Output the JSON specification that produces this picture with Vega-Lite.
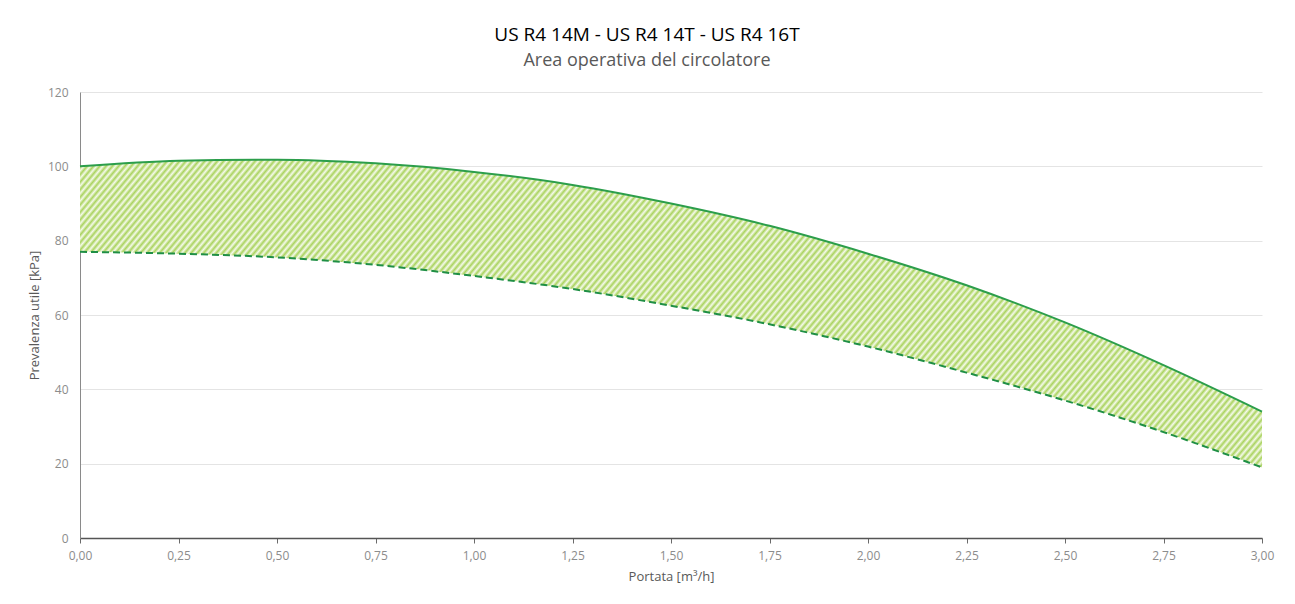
{
  "$schema": "https://vega.github.io/schema/vega-lite/v6.json",
  "width": 1182,
  "height": 446,
  "autosize": {"type": "none"},
  "padding": {"left": 80, "top": 92, "right": 33, "bottom": 66},
  "background": "#ffffff",
  "config": {"view": {"stroke": null}, "font": "Open Sans"},
  "title": {
    "text": "US R4 14M - US R4 14T - US R4 16T",
    "subtitle": "Area operativa del circolatore",
    "anchor": "middle",
    "dx": -24,
    "font": "Open Sans",
    "fontSize": 19,
    "fontWeight": "normal",
    "color": "#000000",
    "subtitleFont": "Open Sans",
    "subtitleFontSize": 18,
    "subtitleColor": "#595959",
    "subtitlePadding": 7,
    "offset": 16
  },
  "data": {
    "values": [
      {"q": 0, "hmax": 100, "hmin": 77},
      {"q": 0.25, "hmax": 101.5, "hmin": 76.5},
      {"q": 0.5, "hmax": 101.8, "hmin": 75.5},
      {"q": 0.75, "hmax": 100.8, "hmin": 73.5},
      {"q": 1.0, "hmax": 98.5, "hmin": 70.5},
      {"q": 1.25, "hmax": 95, "hmin": 67},
      {"q": 1.5, "hmax": 90, "hmin": 62.5},
      {"q": 1.75, "hmax": 84, "hmin": 57.5},
      {"q": 2.0, "hmax": 76.5, "hmin": 51.5},
      {"q": 2.25, "hmax": 68, "hmin": 44.5},
      {"q": 2.5, "hmax": 58, "hmin": 37},
      {"q": 2.75, "hmax": 46.5, "hmin": 28.5},
      {"q": 3.0, "hmax": 34, "hmin": 19}
    ]
  },
  "encoding": {
    "x": {
      "field": "q",
      "type": "quantitative",
      "scale": {"domain": [0, 3], "nice": false},
      "axis": {
        "title": "Portata [m³/h]",
        "values": [0, 0.25, 0.5, 0.75, 1, 1.25, 1.5, 1.75, 2, 2.25, 2.5, 2.75, 3],
        "labelExpr": "replace(format(datum.value, '.2f'), '.', ',')",
        "labelFlush": false,
        "grid": false,
        "ticks": true,
        "tickSize": 5,
        "tickColor": "#6b6b6b",
        "domainColor": "#555555",
        "domainWidth": 1.5,
        "labelPadding": 7,
        "labelFontSize": 12,
        "labelColor": "#8c8c8c",
        "labelFont": "Open Sans",
        "titleFont": "Open Sans",
        "titleFontSize": 13,
        "titleFontWeight": "normal",
        "titleColor": "#595959",
        "titlePadding": 9
      }
    }
  },
  "layer": [
    {
      "mark": {
        "type": "area",
        "interpolate": "monotone",
        "stroke": null,
        "fill": {
          "gradient": "linear",
          "x1": 0, "y1": 0, "x2": 1.27249, "y2": 0.27632,
          "stops": [
{"offset":0.000,"color":"#aad35f"},{"offset":0.002,"color":"#f5faea"},{"offset":0.004,"color":"#aad35f"},{"offset":0.006,"color":"#f5faea"},{"offset":0.008,"color":"#aad35f"},{"offset":0.010,"color":"#f5faea"},{"offset":0.012,"color":"#aad35f"},{"offset":0.014,"color":"#f5faea"},{"offset":0.016,"color":"#aad35f"},{"offset":0.018,"color":"#f5faea"},
{"offset":0.020,"color":"#aad35f"},{"offset":0.022,"color":"#f5faea"},{"offset":0.024,"color":"#aad35f"},{"offset":0.026,"color":"#f5faea"},{"offset":0.028,"color":"#aad35f"},{"offset":0.030,"color":"#f5faea"},{"offset":0.032,"color":"#aad35f"},{"offset":0.034,"color":"#f5faea"},{"offset":0.036,"color":"#aad35f"},{"offset":0.038,"color":"#f5faea"},
{"offset":0.040,"color":"#aad35f"},{"offset":0.042,"color":"#f5faea"},{"offset":0.044,"color":"#aad35f"},{"offset":0.046,"color":"#f5faea"},{"offset":0.048,"color":"#aad35f"},{"offset":0.050,"color":"#f5faea"},{"offset":0.052,"color":"#aad35f"},{"offset":0.054,"color":"#f5faea"},{"offset":0.056,"color":"#aad35f"},{"offset":0.058,"color":"#f5faea"},
{"offset":0.060,"color":"#aad35f"},{"offset":0.062,"color":"#f5faea"},{"offset":0.064,"color":"#aad35f"},{"offset":0.066,"color":"#f5faea"},{"offset":0.068,"color":"#aad35f"},{"offset":0.070,"color":"#f5faea"},{"offset":0.072,"color":"#aad35f"},{"offset":0.074,"color":"#f5faea"},{"offset":0.076,"color":"#aad35f"},{"offset":0.078,"color":"#f5faea"},
{"offset":0.080,"color":"#aad35f"},{"offset":0.082,"color":"#f5faea"},{"offset":0.084,"color":"#aad35f"},{"offset":0.086,"color":"#f5faea"},{"offset":0.088,"color":"#aad35f"},{"offset":0.090,"color":"#f5faea"},{"offset":0.092,"color":"#aad35f"},{"offset":0.094,"color":"#f5faea"},{"offset":0.096,"color":"#aad35f"},{"offset":0.098,"color":"#f5faea"},
{"offset":0.100,"color":"#aad35f"},{"offset":0.102,"color":"#f5faea"},{"offset":0.104,"color":"#aad35f"},{"offset":0.106,"color":"#f5faea"},{"offset":0.108,"color":"#aad35f"},{"offset":0.110,"color":"#f5faea"},{"offset":0.112,"color":"#aad35f"},{"offset":0.114,"color":"#f5faea"},{"offset":0.116,"color":"#aad35f"},{"offset":0.118,"color":"#f5faea"},
{"offset":0.120,"color":"#aad35f"},{"offset":0.122,"color":"#f5faea"},{"offset":0.124,"color":"#aad35f"},{"offset":0.126,"color":"#f5faea"},{"offset":0.128,"color":"#aad35f"},{"offset":0.130,"color":"#f5faea"},{"offset":0.132,"color":"#aad35f"},{"offset":0.134,"color":"#f5faea"},{"offset":0.136,"color":"#aad35f"},{"offset":0.138,"color":"#f5faea"},
{"offset":0.140,"color":"#aad35f"},{"offset":0.142,"color":"#f5faea"},{"offset":0.144,"color":"#aad35f"},{"offset":0.146,"color":"#f5faea"},{"offset":0.148,"color":"#aad35f"},{"offset":0.150,"color":"#f5faea"},{"offset":0.152,"color":"#aad35f"},{"offset":0.154,"color":"#f5faea"},{"offset":0.156,"color":"#aad35f"},{"offset":0.158,"color":"#f5faea"},
{"offset":0.160,"color":"#aad35f"},{"offset":0.162,"color":"#f5faea"},{"offset":0.164,"color":"#aad35f"},{"offset":0.166,"color":"#f5faea"},{"offset":0.168,"color":"#aad35f"},{"offset":0.170,"color":"#f5faea"},{"offset":0.172,"color":"#aad35f"},{"offset":0.174,"color":"#f5faea"},{"offset":0.176,"color":"#aad35f"},{"offset":0.178,"color":"#f5faea"},
{"offset":0.180,"color":"#aad35f"},{"offset":0.182,"color":"#f5faea"},{"offset":0.184,"color":"#aad35f"},{"offset":0.186,"color":"#f5faea"},{"offset":0.188,"color":"#aad35f"},{"offset":0.190,"color":"#f5faea"},{"offset":0.192,"color":"#aad35f"},{"offset":0.194,"color":"#f5faea"},{"offset":0.196,"color":"#aad35f"},{"offset":0.198,"color":"#f5faea"},
{"offset":0.200,"color":"#aad35f"},{"offset":0.202,"color":"#f5faea"},{"offset":0.204,"color":"#aad35f"},{"offset":0.206,"color":"#f5faea"},{"offset":0.208,"color":"#aad35f"},{"offset":0.210,"color":"#f5faea"},{"offset":0.212,"color":"#aad35f"},{"offset":0.214,"color":"#f5faea"},{"offset":0.216,"color":"#aad35f"},{"offset":0.218,"color":"#f5faea"},
{"offset":0.220,"color":"#aad35f"},{"offset":0.222,"color":"#f5faea"},{"offset":0.224,"color":"#aad35f"},{"offset":0.226,"color":"#f5faea"},{"offset":0.228,"color":"#aad35f"},{"offset":0.230,"color":"#f5faea"},{"offset":0.232,"color":"#aad35f"},{"offset":0.234,"color":"#f5faea"},{"offset":0.236,"color":"#aad35f"},{"offset":0.238,"color":"#f5faea"},
{"offset":0.240,"color":"#aad35f"},{"offset":0.242,"color":"#f5faea"},{"offset":0.244,"color":"#aad35f"},{"offset":0.246,"color":"#f5faea"},{"offset":0.248,"color":"#aad35f"},{"offset":0.250,"color":"#f5faea"},{"offset":0.252,"color":"#aad35f"},{"offset":0.254,"color":"#f5faea"},{"offset":0.256,"color":"#aad35f"},{"offset":0.258,"color":"#f5faea"},
{"offset":0.260,"color":"#aad35f"},{"offset":0.262,"color":"#f5faea"},{"offset":0.264,"color":"#aad35f"},{"offset":0.266,"color":"#f5faea"},{"offset":0.268,"color":"#aad35f"},{"offset":0.270,"color":"#f5faea"},{"offset":0.272,"color":"#aad35f"},{"offset":0.274,"color":"#f5faea"},{"offset":0.276,"color":"#aad35f"},{"offset":0.278,"color":"#f5faea"},
{"offset":0.280,"color":"#aad35f"},{"offset":0.282,"color":"#f5faea"},{"offset":0.284,"color":"#aad35f"},{"offset":0.286,"color":"#f5faea"},{"offset":0.288,"color":"#aad35f"},{"offset":0.290,"color":"#f5faea"},{"offset":0.292,"color":"#aad35f"},{"offset":0.294,"color":"#f5faea"},{"offset":0.296,"color":"#aad35f"},{"offset":0.298,"color":"#f5faea"},
{"offset":0.300,"color":"#aad35f"},{"offset":0.302,"color":"#f5faea"},{"offset":0.304,"color":"#aad35f"},{"offset":0.306,"color":"#f5faea"},{"offset":0.308,"color":"#aad35f"},{"offset":0.310,"color":"#f5faea"},{"offset":0.312,"color":"#aad35f"},{"offset":0.314,"color":"#f5faea"},{"offset":0.316,"color":"#aad35f"},{"offset":0.318,"color":"#f5faea"},
{"offset":0.320,"color":"#aad35f"},{"offset":0.322,"color":"#f5faea"},{"offset":0.324,"color":"#aad35f"},{"offset":0.326,"color":"#f5faea"},{"offset":0.328,"color":"#aad35f"},{"offset":0.330,"color":"#f5faea"},{"offset":0.332,"color":"#aad35f"},{"offset":0.334,"color":"#f5faea"},{"offset":0.336,"color":"#aad35f"},{"offset":0.338,"color":"#f5faea"},
{"offset":0.340,"color":"#aad35f"},{"offset":0.342,"color":"#f5faea"},{"offset":0.344,"color":"#aad35f"},{"offset":0.346,"color":"#f5faea"},{"offset":0.348,"color":"#aad35f"},{"offset":0.350,"color":"#f5faea"},{"offset":0.352,"color":"#aad35f"},{"offset":0.354,"color":"#f5faea"},{"offset":0.356,"color":"#aad35f"},{"offset":0.358,"color":"#f5faea"},
{"offset":0.360,"color":"#aad35f"},{"offset":0.362,"color":"#f5faea"},{"offset":0.364,"color":"#aad35f"},{"offset":0.366,"color":"#f5faea"},{"offset":0.368,"color":"#aad35f"},{"offset":0.370,"color":"#f5faea"},{"offset":0.372,"color":"#aad35f"},{"offset":0.374,"color":"#f5faea"},{"offset":0.376,"color":"#aad35f"},{"offset":0.378,"color":"#f5faea"},
{"offset":0.380,"color":"#aad35f"},{"offset":0.382,"color":"#f5faea"},{"offset":0.384,"color":"#aad35f"},{"offset":0.386,"color":"#f5faea"},{"offset":0.388,"color":"#aad35f"},{"offset":0.390,"color":"#f5faea"},{"offset":0.392,"color":"#aad35f"},{"offset":0.394,"color":"#f5faea"},{"offset":0.396,"color":"#aad35f"},{"offset":0.398,"color":"#f5faea"},
{"offset":0.400,"color":"#aad35f"},{"offset":0.402,"color":"#f5faea"},{"offset":0.404,"color":"#aad35f"},{"offset":0.406,"color":"#f5faea"},{"offset":0.408,"color":"#aad35f"},{"offset":0.410,"color":"#f5faea"},{"offset":0.412,"color":"#aad35f"},{"offset":0.414,"color":"#f5faea"},{"offset":0.416,"color":"#aad35f"},{"offset":0.418,"color":"#f5faea"},
{"offset":0.420,"color":"#aad35f"},{"offset":0.422,"color":"#f5faea"},{"offset":0.424,"color":"#aad35f"},{"offset":0.426,"color":"#f5faea"},{"offset":0.428,"color":"#aad35f"},{"offset":0.430,"color":"#f5faea"},{"offset":0.432,"color":"#aad35f"},{"offset":0.434,"color":"#f5faea"},{"offset":0.436,"color":"#aad35f"},{"offset":0.438,"color":"#f5faea"},
{"offset":0.440,"color":"#aad35f"},{"offset":0.442,"color":"#f5faea"},{"offset":0.444,"color":"#aad35f"},{"offset":0.446,"color":"#f5faea"},{"offset":0.448,"color":"#aad35f"},{"offset":0.450,"color":"#f5faea"},{"offset":0.452,"color":"#aad35f"},{"offset":0.454,"color":"#f5faea"},{"offset":0.456,"color":"#aad35f"},{"offset":0.458,"color":"#f5faea"},
{"offset":0.460,"color":"#aad35f"},{"offset":0.462,"color":"#f5faea"},{"offset":0.464,"color":"#aad35f"},{"offset":0.466,"color":"#f5faea"},{"offset":0.468,"color":"#aad35f"},{"offset":0.470,"color":"#f5faea"},{"offset":0.472,"color":"#aad35f"},{"offset":0.474,"color":"#f5faea"},{"offset":0.476,"color":"#aad35f"},{"offset":0.478,"color":"#f5faea"},
{"offset":0.480,"color":"#aad35f"},{"offset":0.482,"color":"#f5faea"},{"offset":0.484,"color":"#aad35f"},{"offset":0.486,"color":"#f5faea"},{"offset":0.488,"color":"#aad35f"},{"offset":0.490,"color":"#f5faea"},{"offset":0.492,"color":"#aad35f"},{"offset":0.494,"color":"#f5faea"},{"offset":0.496,"color":"#aad35f"},{"offset":0.498,"color":"#f5faea"},
{"offset":0.500,"color":"#aad35f"},{"offset":0.502,"color":"#f5faea"},{"offset":0.504,"color":"#aad35f"},{"offset":0.506,"color":"#f5faea"},{"offset":0.508,"color":"#aad35f"},{"offset":0.510,"color":"#f5faea"},{"offset":0.512,"color":"#aad35f"},{"offset":0.514,"color":"#f5faea"},{"offset":0.516,"color":"#aad35f"},{"offset":0.518,"color":"#f5faea"},
{"offset":0.520,"color":"#aad35f"},{"offset":0.522,"color":"#f5faea"},{"offset":0.524,"color":"#aad35f"},{"offset":0.526,"color":"#f5faea"},{"offset":0.528,"color":"#aad35f"},{"offset":0.530,"color":"#f5faea"},{"offset":0.532,"color":"#aad35f"},{"offset":0.534,"color":"#f5faea"},{"offset":0.536,"color":"#aad35f"},{"offset":0.538,"color":"#f5faea"},
{"offset":0.540,"color":"#aad35f"},{"offset":0.542,"color":"#f5faea"},{"offset":0.544,"color":"#aad35f"},{"offset":0.546,"color":"#f5faea"},{"offset":0.548,"color":"#aad35f"},{"offset":0.550,"color":"#f5faea"},{"offset":0.552,"color":"#aad35f"},{"offset":0.554,"color":"#f5faea"},{"offset":0.556,"color":"#aad35f"},{"offset":0.558,"color":"#f5faea"},
{"offset":0.560,"color":"#aad35f"},{"offset":0.562,"color":"#f5faea"},{"offset":0.564,"color":"#aad35f"},{"offset":0.566,"color":"#f5faea"},{"offset":0.568,"color":"#aad35f"},{"offset":0.570,"color":"#f5faea"},{"offset":0.572,"color":"#aad35f"},{"offset":0.574,"color":"#f5faea"},{"offset":0.576,"color":"#aad35f"},{"offset":0.578,"color":"#f5faea"},
{"offset":0.580,"color":"#aad35f"},{"offset":0.582,"color":"#f5faea"},{"offset":0.584,"color":"#aad35f"},{"offset":0.586,"color":"#f5faea"},{"offset":0.588,"color":"#aad35f"},{"offset":0.590,"color":"#f5faea"},{"offset":0.592,"color":"#aad35f"},{"offset":0.594,"color":"#f5faea"},{"offset":0.596,"color":"#aad35f"},{"offset":0.598,"color":"#f5faea"},
{"offset":0.600,"color":"#aad35f"},{"offset":0.602,"color":"#f5faea"},{"offset":0.604,"color":"#aad35f"},{"offset":0.606,"color":"#f5faea"},{"offset":0.608,"color":"#aad35f"},{"offset":0.610,"color":"#f5faea"},{"offset":0.612,"color":"#aad35f"},{"offset":0.614,"color":"#f5faea"},{"offset":0.616,"color":"#aad35f"},{"offset":0.618,"color":"#f5faea"},
{"offset":0.620,"color":"#aad35f"},{"offset":0.622,"color":"#f5faea"},{"offset":0.624,"color":"#aad35f"},{"offset":0.626,"color":"#f5faea"},{"offset":0.628,"color":"#aad35f"},{"offset":0.630,"color":"#f5faea"},{"offset":0.632,"color":"#aad35f"},{"offset":0.634,"color":"#f5faea"},{"offset":0.636,"color":"#aad35f"},{"offset":0.638,"color":"#f5faea"},
{"offset":0.640,"color":"#aad35f"},{"offset":0.642,"color":"#f5faea"},{"offset":0.644,"color":"#aad35f"},{"offset":0.646,"color":"#f5faea"},{"offset":0.648,"color":"#aad35f"},{"offset":0.650,"color":"#f5faea"},{"offset":0.652,"color":"#aad35f"},{"offset":0.654,"color":"#f5faea"},{"offset":0.656,"color":"#aad35f"},{"offset":0.658,"color":"#f5faea"},
{"offset":0.660,"color":"#aad35f"},{"offset":0.662,"color":"#f5faea"},{"offset":0.664,"color":"#aad35f"},{"offset":0.666,"color":"#f5faea"},{"offset":0.668,"color":"#aad35f"},{"offset":0.670,"color":"#f5faea"},{"offset":0.672,"color":"#aad35f"},{"offset":0.674,"color":"#f5faea"},{"offset":0.676,"color":"#aad35f"},{"offset":0.678,"color":"#f5faea"},
{"offset":0.680,"color":"#aad35f"},{"offset":0.682,"color":"#f5faea"},{"offset":0.684,"color":"#aad35f"},{"offset":0.686,"color":"#f5faea"},{"offset":0.688,"color":"#aad35f"},{"offset":0.690,"color":"#f5faea"},{"offset":0.692,"color":"#aad35f"},{"offset":0.694,"color":"#f5faea"},{"offset":0.696,"color":"#aad35f"},{"offset":0.698,"color":"#f5faea"},
{"offset":0.700,"color":"#aad35f"},{"offset":0.702,"color":"#f5faea"},{"offset":0.704,"color":"#aad35f"},{"offset":0.706,"color":"#f5faea"},{"offset":0.708,"color":"#aad35f"},{"offset":0.710,"color":"#f5faea"},{"offset":0.712,"color":"#aad35f"},{"offset":0.714,"color":"#f5faea"},{"offset":0.716,"color":"#aad35f"},{"offset":0.718,"color":"#f5faea"},
{"offset":0.720,"color":"#aad35f"},{"offset":0.722,"color":"#f5faea"},{"offset":0.724,"color":"#aad35f"},{"offset":0.726,"color":"#f5faea"},{"offset":0.728,"color":"#aad35f"},{"offset":0.730,"color":"#f5faea"},{"offset":0.732,"color":"#aad35f"},{"offset":0.734,"color":"#f5faea"},{"offset":0.736,"color":"#aad35f"},{"offset":0.738,"color":"#f5faea"},
{"offset":0.740,"color":"#aad35f"},{"offset":0.742,"color":"#f5faea"},{"offset":0.744,"color":"#aad35f"},{"offset":0.746,"color":"#f5faea"},{"offset":0.748,"color":"#aad35f"},{"offset":0.750,"color":"#f5faea"},{"offset":0.752,"color":"#aad35f"},{"offset":0.754,"color":"#f5faea"},{"offset":0.756,"color":"#aad35f"},{"offset":0.758,"color":"#f5faea"},
{"offset":0.760,"color":"#aad35f"},{"offset":0.762,"color":"#f5faea"},{"offset":0.764,"color":"#aad35f"},{"offset":0.766,"color":"#f5faea"},{"offset":0.768,"color":"#aad35f"},{"offset":0.770,"color":"#f5faea"},{"offset":0.772,"color":"#aad35f"},{"offset":0.774,"color":"#f5faea"},{"offset":0.776,"color":"#aad35f"},{"offset":0.778,"color":"#f5faea"},
{"offset":0.780,"color":"#aad35f"},{"offset":0.782,"color":"#f5faea"},{"offset":0.784,"color":"#aad35f"},{"offset":0.786,"color":"#f5faea"},{"offset":0.788,"color":"#aad35f"},{"offset":0.790,"color":"#f5faea"},{"offset":0.792,"color":"#aad35f"},{"offset":0.794,"color":"#f5faea"},{"offset":0.796,"color":"#aad35f"},{"offset":0.798,"color":"#f5faea"},
{"offset":0.800,"color":"#aad35f"},{"offset":0.802,"color":"#f5faea"},{"offset":0.804,"color":"#aad35f"},{"offset":0.806,"color":"#f5faea"},{"offset":0.808,"color":"#aad35f"},{"offset":0.810,"color":"#f5faea"},{"offset":0.812,"color":"#aad35f"},{"offset":0.814,"color":"#f5faea"},{"offset":0.816,"color":"#aad35f"},{"offset":0.818,"color":"#f5faea"},
{"offset":0.820,"color":"#aad35f"},{"offset":0.822,"color":"#f5faea"},{"offset":0.824,"color":"#aad35f"},{"offset":0.826,"color":"#f5faea"},{"offset":0.828,"color":"#aad35f"},{"offset":0.830,"color":"#f5faea"},{"offset":0.832,"color":"#aad35f"},{"offset":0.834,"color":"#f5faea"},{"offset":0.836,"color":"#aad35f"},{"offset":0.838,"color":"#f5faea"},
{"offset":0.840,"color":"#aad35f"},{"offset":0.842,"color":"#f5faea"},{"offset":0.844,"color":"#aad35f"},{"offset":0.846,"color":"#f5faea"},{"offset":0.848,"color":"#aad35f"},{"offset":0.850,"color":"#f5faea"},{"offset":0.852,"color":"#aad35f"},{"offset":0.854,"color":"#f5faea"},{"offset":0.856,"color":"#aad35f"},{"offset":0.858,"color":"#f5faea"},
{"offset":0.860,"color":"#aad35f"},{"offset":0.862,"color":"#f5faea"},{"offset":0.864,"color":"#aad35f"},{"offset":0.866,"color":"#f5faea"},{"offset":0.868,"color":"#aad35f"},{"offset":0.870,"color":"#f5faea"},{"offset":0.872,"color":"#aad35f"},{"offset":0.874,"color":"#f5faea"},{"offset":0.876,"color":"#aad35f"},{"offset":0.878,"color":"#f5faea"},
{"offset":0.880,"color":"#aad35f"},{"offset":0.882,"color":"#f5faea"},{"offset":0.884,"color":"#aad35f"},{"offset":0.886,"color":"#f5faea"},{"offset":0.888,"color":"#aad35f"},{"offset":0.890,"color":"#f5faea"},{"offset":0.892,"color":"#aad35f"},{"offset":0.894,"color":"#f5faea"},{"offset":0.896,"color":"#aad35f"},{"offset":0.898,"color":"#f5faea"},
{"offset":0.900,"color":"#aad35f"},{"offset":0.902,"color":"#f5faea"},{"offset":0.904,"color":"#aad35f"},{"offset":0.906,"color":"#f5faea"},{"offset":0.908,"color":"#aad35f"},{"offset":0.910,"color":"#f5faea"},{"offset":0.912,"color":"#aad35f"},{"offset":0.914,"color":"#f5faea"},{"offset":0.916,"color":"#aad35f"},{"offset":0.918,"color":"#f5faea"},
{"offset":0.920,"color":"#aad35f"},{"offset":0.922,"color":"#f5faea"},{"offset":0.924,"color":"#aad35f"},{"offset":0.926,"color":"#f5faea"},{"offset":0.928,"color":"#aad35f"},{"offset":0.930,"color":"#f5faea"},{"offset":0.932,"color":"#aad35f"},{"offset":0.934,"color":"#f5faea"},{"offset":0.936,"color":"#aad35f"},{"offset":0.938,"color":"#f5faea"},
{"offset":0.940,"color":"#aad35f"},{"offset":0.942,"color":"#f5faea"},{"offset":0.944,"color":"#aad35f"},{"offset":0.946,"color":"#f5faea"},{"offset":0.948,"color":"#aad35f"},{"offset":0.950,"color":"#f5faea"},{"offset":0.952,"color":"#aad35f"},{"offset":0.954,"color":"#f5faea"},{"offset":0.956,"color":"#aad35f"},{"offset":0.958,"color":"#f5faea"},
{"offset":0.960,"color":"#aad35f"},{"offset":0.962,"color":"#f5faea"},{"offset":0.964,"color":"#aad35f"},{"offset":0.966,"color":"#f5faea"},{"offset":0.968,"color":"#aad35f"},{"offset":0.970,"color":"#f5faea"},{"offset":0.972,"color":"#aad35f"},{"offset":0.974,"color":"#f5faea"},{"offset":0.976,"color":"#aad35f"},{"offset":0.978,"color":"#f5faea"},
{"offset":0.980,"color":"#aad35f"},{"offset":0.982,"color":"#f5faea"},{"offset":0.984,"color":"#aad35f"},{"offset":0.986,"color":"#f5faea"},{"offset":0.988,"color":"#aad35f"},{"offset":0.990,"color":"#f5faea"},{"offset":0.992,"color":"#aad35f"},{"offset":0.994,"color":"#f5faea"},{"offset":0.996,"color":"#aad35f"},{"offset":0.998,"color":"#f5faea"},
{"offset":1.000,"color":"#aad35f"}
          ]
        }
      },
      "encoding": {
        "y": {
          "field": "hmin",
          "type": "quantitative",
          "title": "Prevalenza utile [kPa]",
          "scale": {"domain": [0, 120], "nice": false},
          "axis": {
            "values": [0, 20, 40, 60, 80, 100, 120],
            "grid": true,
            "gridColor": "#e4e4e4",
            "domainColor": "#8a8a8a",
            "ticks": false,
            "labelPadding": 12,
            "labelFontSize": 12,
            "labelColor": "#8c8c8c",
            "labelFont": "Open Sans",
            "titleFont": "Open Sans",
            "titleFontSize": 13,
            "titleFontWeight": "normal",
            "titleColor": "#595959",
            "titlePadding": 6
          }
        },
        "y2": {"field": "hmax"}
      }
    },
    {
      "mark": {"type": "line", "interpolate": "monotone", "color": "#2c9e4b", "strokeWidth": 2},
      "encoding": {
        "y": {"field": "hmax", "type": "quantitative", "title": "Prevalenza utile [kPa]"}
      }
    },
    {
      "mark": {"type": "line", "interpolate": "monotone", "color": "#1f8f45", "strokeWidth": 2, "strokeDash": [7, 4]},
      "encoding": {
        "y": {"field": "hmin", "type": "quantitative", "title": "Prevalenza utile [kPa]"}
      }
    }
  ]
}
